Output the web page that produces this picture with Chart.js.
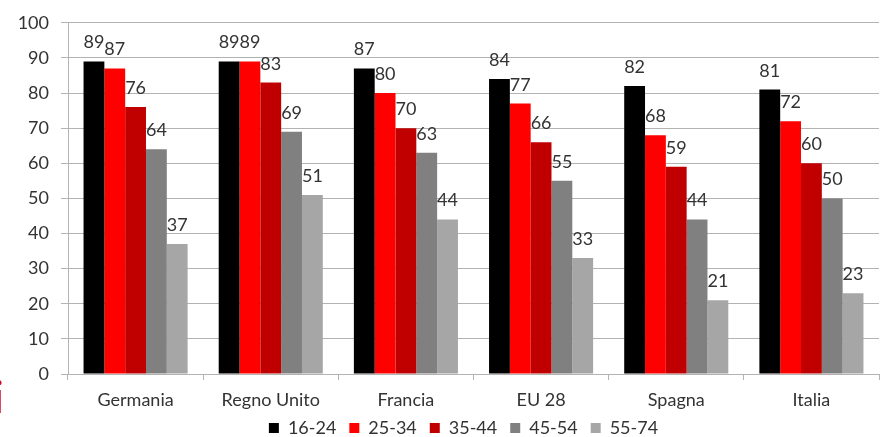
<!DOCTYPE html>
<html>
<head>
<meta charset="utf-8">
<script src="https://cdn.jsdelivr.net/npm/chart.js@4.4.1/dist/chart.umd.min.js"></script>
<style>
    html, body { margin: 0; padding: 0; background: #ffffff; }
    #wrap { width: 885px; height: 437px; position: relative; }
</style>
</head>
<body>
<div id="wrap"><canvas id="ageChart"></canvas></div>
<script>
// Countries and age groups
const countries = ['Germania', 'Regno Unito', 'Francia', 'EU 28', 'Spagna', 'Italia'];
const ageGroups = ['16-24', '25-34', '35-44', '45-54', '55-74'];

// Values per age group, one per country
const age16_24 = [89, 89, 87, 84, 82, 81];
const age25_34 = [87, 89, 80, 77, 68, 72];
const age35_44 = [76, 83, 70, 66, 59, 60];
const age45_54 = [64, 69, 63, 55, 44, 50];
const age55_74 = [37, 51, 44, 33, 21, 23];

const yTicks = [0, 10, 20, 30, 40, 50, 60, 70, 80, 90, 100];

const seriesColors = ['#000000', '#ff0000', '#c00000', '#808080', '#a6a6a6'];
const textColor = '#333333';
const gridColor = '#b3b3b3';
const fontFamily = 'Lato, "Open Sans", sans-serif';

// Value labels above each bar
const barLabels = {
    id: 'barLabels',
    afterDatasetsDraw(chart) {
        const ctx = chart.ctx;
        ctx.save();
        ctx.font = '18px ' + fontFamily;
        ctx.fillStyle = textColor;
        ctx.textAlign = 'center';
        ctx.textBaseline = 'alphabetic';
        chart.data.datasets.forEach((ds, i) => {
            chart.getDatasetMeta(i).data.forEach((bar, j) => {
                ctx.fillText(String(ds.data[j]), bar.x, bar.y - 13);
            });
        });
        ctx.restore();
    }
};

// Legend sits tight against the bottom edge and is centred under the plot area
const tightLegend = {
    id: 'tightLegend',
    beforeInit(chart) {
        const legend = chart.legend;
        if (!legend) return;
        const origFit = legend.fit.bind(legend);
        legend.fit = function() {
            origFit();
            this.height -= 10;
        };
    },
    afterLayout(chart) {
        if (chart.legend) chart.legend.left += 48;
    }
};

// Red letter fragment at the left edge
const edgeMark = {
    id: 'edgeMark',
    afterDraw(chart) {
        const ctx = chart.ctx;
        ctx.save();
        ctx.font = '44px ' + fontFamily;
        ctx.fillStyle = '#c8102e';
        ctx.textAlign = 'right';
        ctx.textBaseline = 'alphabetic';
        ctx.fillText('i', 4, 413);
        ctx.restore();
    }
};

const datasets = [age16_24, age25_34, age35_44, age45_54, age55_74].map((values, i) => ({
    label: ageGroups[i],
    data: values,
    backgroundColor: seriesColors[i],
    borderWidth: 0
}));

new Chart(document.getElementById('ageChart'), {
    type: 'bar',
    data: { labels: countries, datasets: datasets },
    options: {
        responsive: true,
        maintainAspectRatio: false,
        animation: false,
        layout: { padding: { top: 0, right: 6, left: 0, bottom: 0 } },
        datasets: { bar: { categoryPercentage: 0.77, barPercentage: 1.0 } },
        plugins: {
            legend: {
                position: 'bottom',
                labels: {
                    boxWidth: 10,
                    boxHeight: 10,
                    padding: 13,
                    color: textColor,
                    font: { family: fontFamily, size: 18 }
                }
            },
            tooltip: { enabled: false }
        },
        scales: {
            x: {
                afterFit(scale) {
                    scale.height = 32;
                    // let descenders of the country names run past the scale box
                    scale._computeLabelArea = () => null;
                },
                grid: { drawOnChartArea: false, offset: true, tickLength: 6, color: gridColor },
                border: { color: gridColor },
                ticks: { color: textColor, font: { family: fontFamily, size: 18 }, padding: 9 }
            },
            y: {
                min: 0,
                max: 100,
                afterBuildTicks(scale) {
                    scale.ticks = yTicks.map(v => ({ value: v }));
                },
                afterFit(scale) {
                    scale.width = 68;
                },
                grid: { color: gridColor, tickLength: 7 },
                border: { color: gridColor },
                ticks: { color: textColor, font: { family: fontFamily, size: 18 }, padding: 12 }
            }
        }
    },
    plugins: [barLabels, tightLegend, edgeMark]
});
</script>
</body>
</html>
